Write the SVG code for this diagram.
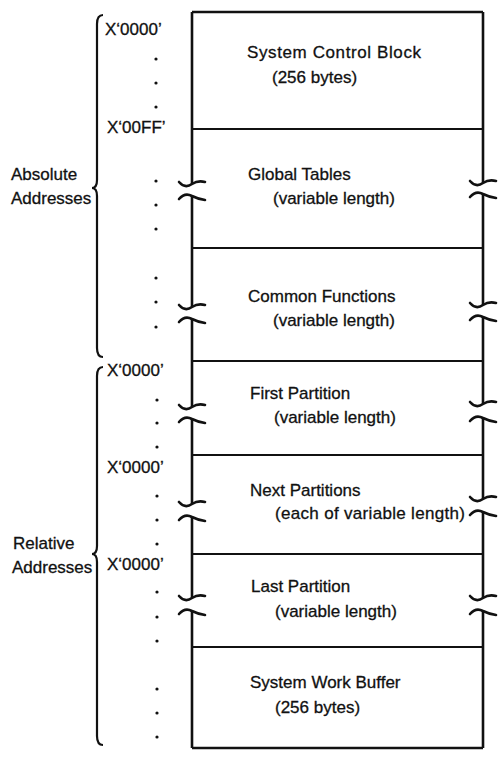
<svg xmlns="http://www.w3.org/2000/svg" width="498" height="764" viewBox="0 0 498 764">
<style>
  text { font-family: "Liberation Sans", Arial, sans-serif; font-size: 17px; fill: #111; stroke: #111; stroke-width: 0.3; }
  .box { fill: none; stroke: #111; stroke-width: 2.6; }
  .div { stroke: #111; stroke-width: 2; fill: none; }
  .brk { stroke: #111; stroke-width: 2.6; fill: none; stroke-linecap: round; }
  .brace { stroke: #111; stroke-width: 2.2; fill: none; }
  .dot { fill: #111; }
</style>
<defs>
  <path id="up" d="M -13,-1 Q -7,6 0,1 Q 6,-3 13,-1"/>
  <path id="lo" d="M -13,2 Q -7,-5 0,-1 Q 6,2 13,3"/>
  <circle id="d" r="1.6"/>
</defs>
<rect width="498" height="764" fill="#fff"/>

<g id="memory-column">
  <path class="box" d="M 192,12 L 483,12 M 192,748 L 483,748"/>
  <path class="box" d="M 192,12 V 184 M 192,196 V 307 M 192,319 V 407 M 192,419 V 504 M 192,517 V 598 M 192,611 V 748"/>
  <path class="box" d="M 483,12 V 183 M 483,194 V 305 M 483,317 V 404 M 483,418 V 499 M 483,512 V 598 M 483,611 V 748"/>
</g>

<g id="dividers">
  <line class="div" x1="192" y1="129" x2="483" y2="129"/>
  <line class="div" x1="192" y1="248" x2="483" y2="248"/>
  <line class="div" x1="192" y1="361" x2="483" y2="361"/>
  <line class="div" x1="192" y1="455" x2="483" y2="455"/>
  <line class="div" x1="192" y1="554" x2="483" y2="554"/>
  <line class="div" x1="192" y1="647" x2="483" y2="647"/>
</g>

<g id="break-marks">
  <use href="#up" class="brk" x="192" y="183"/>
  <use href="#lo" class="brk" x="192" y="197"/>
  <use href="#up" class="brk" x="192" y="306"/>
  <use href="#lo" class="brk" x="192" y="320"/>
  <use href="#up" class="brk" x="192" y="406"/>
  <use href="#lo" class="brk" x="192" y="420"/>
  <use href="#up" class="brk" x="192" y="503"/>
  <use href="#lo" class="brk" x="192" y="518"/>
  <use href="#up" class="brk" x="192" y="597"/>
  <use href="#lo" class="brk" x="192" y="612"/>

  <use href="#up" class="brk" x="483" y="182"/>
  <use href="#lo" class="brk" x="483" y="195"/>
  <use href="#up" class="brk" x="483" y="304"/>
  <use href="#lo" class="brk" x="483" y="318"/>
  <use href="#up" class="brk" x="483" y="403"/>
  <use href="#lo" class="brk" x="483" y="419"/>
  <use href="#up" class="brk" x="483" y="498"/>
  <use href="#lo" class="brk" x="483" y="513"/>
  <use href="#up" class="brk" x="483" y="597"/>
  <use href="#lo" class="brk" x="483" y="612"/>
</g>

<g id="scb">
  <text x="247" y="58" textLength="174">System Control Block</text>
  <text x="272" y="83">(256 bytes)</text>
</g>
<g id="global-tables">
  <text x="248" y="180">Global Tables</text>
  <text x="273" y="204">(variable length)</text>
</g>
<g id="common-functions">
  <text x="248" y="302">Common Functions</text>
  <text x="273" y="326">(variable length)</text>
</g>
<g id="first-partition">
  <text x="250" y="399">First Partition</text>
  <text x="274" y="423">(variable length)</text>
</g>
<g id="next-partitions">
  <text x="250" y="496">Next Partitions</text>
  <text x="275" y="519" textLength="190">(each of variable length)</text>
</g>
<g id="last-partition">
  <text x="251" y="592">Last Partition</text>
  <text x="275" y="617">(variable length)</text>
</g>
<g id="work-buffer">
  <text x="250" y="688">System Work Buffer</text>
  <text x="275" y="713">(256 bytes)</text>
</g>

<g id="addresses">
  <text x="105" y="35">X‘0000’</text>
  <text x="107" y="133">X‘00FF’</text>
  <text x="107" y="376">X‘0000’</text>
  <text x="107" y="473">X‘0000’</text>
  <text x="107" y="570">X‘0000’</text>
  <g class="dot">
    <use href="#d" x="156" y="59"/><use href="#d" x="156" y="83"/><use href="#d" x="156" y="107"/>
    <use href="#d" x="156" y="181"/><use href="#d" x="156" y="205"/><use href="#d" x="156" y="229"/>
    <use href="#d" x="156" y="278"/><use href="#d" x="156" y="302"/><use href="#d" x="156" y="327"/>
    <use href="#d" x="157" y="400"/><use href="#d" x="157" y="423"/><use href="#d" x="157" y="447"/>
    <use href="#d" x="157" y="496"/><use href="#d" x="157" y="520"/><use href="#d" x="157" y="544"/>
    <use href="#d" x="157" y="592"/><use href="#d" x="157" y="617"/><use href="#d" x="157" y="641"/>
    <use href="#d" x="157" y="689"/><use href="#d" x="157" y="713"/><use href="#d" x="157" y="737"/>
  </g>
</g>

<g id="absolute">
  <path class="brace" d="M 103,15 Q 97,15 97,24 L 97,180 Q 97,188 92,188 Q 97,188 97,196 L 97,348 Q 97,357 103,357"/>
  <text x="11" y="180">Absolute</text>
  <text x="11" y="204">Addresses</text>
</g>
<g id="relative">
  <path class="brace" d="M 103,367 Q 97,367 97,376 L 97,546 Q 97,554 92,554 Q 97,554 97,562 L 97,736 Q 97,745 103,745"/>
  <text x="13" y="549">Relative</text>
  <text x="12" y="573">Addresses</text>
</g>
</svg>
